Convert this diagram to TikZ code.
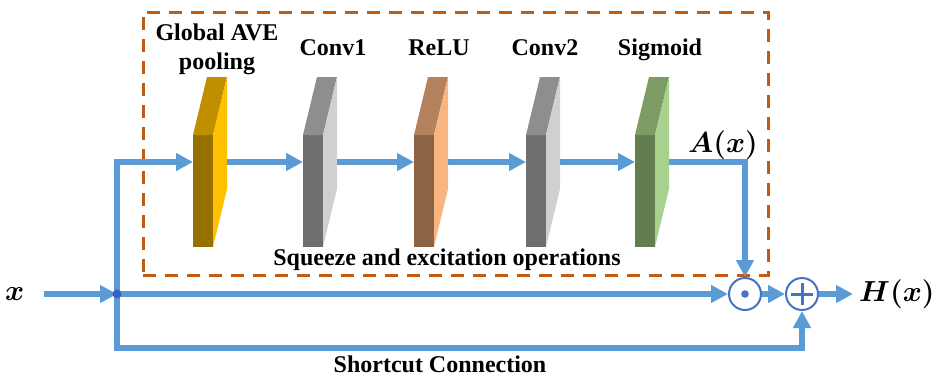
\RequirePackage{fix-cm}
\documentclass[tikz,border=0pt]{standalone}
\usepackage{amsmath}
\usepackage{fontspec}
\setmainfont{Liberation Serif}
\usetikzlibrary{arrows.meta,calc}
\definecolor{flowblue}{HTML}{5B9BD5}
\definecolor{opblue}{HTML}{4472C4}
\definecolor{dotblue}{HTML}{3A5FC0}
\definecolor{boxorange}{HTML}{C55A11}
\definecolor{goldF}{HTML}{977100}\definecolor{goldT}{HTML}{BF8F00}\definecolor{goldS}{HTML}{FFC000}
\definecolor{grayF}{HTML}{6F6F6F}\definecolor{grayT}{HTML}{8E8E8E}\definecolor{grayS}{HTML}{D0D0D0}
\definecolor{reluF}{HTML}{8C6343}\definecolor{reluT}{HTML}{B4835E}\definecolor{reluS}{HTML}{FAB482}
\definecolor{sigF}{HTML}{627D4E}\definecolor{sigT}{HTML}{7C9C64}\definecolor{sigS}{HTML}{A9D18E}
\newcommand{\mathAx}{$\boldsymbol{A(x)}$}
\newcommand{\mathHx}{$\boldsymbol{H(x)}$}
\newcommand{\mathx}{$\boldsymbol{x}$}
\tikzset{
  slabfront/.style={minimum width=20pt,minimum height=112pt,inner sep=0pt,outer sep=0pt},
  flow/.style={draw=flowblue,line width=5.5pt,-{Triangle[length=17pt,width=17pt]}},
  lbl/.style={font=\bfseries\fontsize{24}{28}\selectfont,anchor=base,inner sep=0pt},
  mth/.style={font=\fontsize{29}{33}\selectfont,inner sep=0pt},
  opnode/.style={circle,draw=opblue,line width=2pt,minimum size=32pt,inner sep=0pt,fill=white},
  sebox/.style={draw=boxorange,line width=3pt,dash pattern=on 13pt off 9pt,inner sep=0pt},
}
\newcommand{\slabfaces}[3]{%
  \fill[#2] (#1.north west) -- ++(14,-58) -- ++(20,0) -- (#1.north east) -- cycle;
  \fill[#3] (#1.north east) -- ++(14,-58) -- ++(0,112) -- (#1.south east) -- cycle;
  \coordinate (#1in) at ($(#1.north west)+(0,27)$);
  \coordinate (#1out) at ($(#1.north east)+(14,27)$);
}
\begin{document}
\begin{tikzpicture}[x=1pt,y=-1pt]
\useasboundingbox (0,0) rectangle (934,378);
% dashed frame
\node[sebox,minimum width=625pt,minimum height=263pt] (frame) at (455.5,143.5) {};
% slabs
\node[slabfront,fill=goldF] (s1) at (203,191) {};
\slabfaces{s1}{goldT}{goldS}
\node[slabfront,fill=grayF] (s2) at (313,191) {};
\slabfaces{s2}{grayT}{grayS}
\node[slabfront,fill=reluF] (s3) at (424,191) {};
\slabfaces{s3}{reluT}{reluS}
\node[slabfront,fill=grayF] (s4) at (536,191) {};
\slabfaces{s4}{grayT}{grayS}
\node[slabfront,fill=sigF] (s5) at (645,191) {};
\slabfaces{s5}{sigT}{sigS}
% labels
\node[lbl] (l1a) at (217,40) {Global AVE};
\node[lbl] (l1b) at (217,69) {pooling};
\node[lbl] (l2) at (333,55) {Conv1};
\node[lbl] (l3) at (439,55) {ReLU};
\node[lbl] (l4) at (545,55) {Conv2};
\node[lbl] (l5) at (660,55) {Sigmoid};
\node[lbl] (lse) at (447,265) {Squeeze and excitation operations};
\node[lbl] (lsc) at (440,372) {Shortcut Connection};
\node[mth,anchor=base west] (ax) at (688,152) {\mathAx};
% operators
\node[opnode] (odot) at (745,294) {};
\fill[opblue] (odot) circle (3.8pt);
\node[opnode] (oplus) at (802,294) {};
\draw[opblue,line width=3pt] ($(oplus)+(-11,0)$) -- ($(oplus)+(11,0)$);
\draw[opblue,line width=3pt] ($(oplus)+(0,-11)$) -- ($(oplus)+(0,11)$);
% input / output
\node[mth,anchor=west,inner xsep=5pt] (xin) at (0,294) {\mathx};
\node[mth,anchor=west,inner xsep=6pt] (hx) at (853,294) {\mathHx};
\coordinate (J) at (117,294);
\coordinate (bl) at (117,348);
% connectors
\draw[flow,shorten <=14pt] (xin.east) -- (J);
\draw[flow] (J) |- (s1in);
\draw[flow] (s1out) -- (s2in);
\draw[flow] (s2out) -- (s3in);
\draw[flow] (s3out) -- (s4in);
\draw[flow] (s4out) -- (s5in);
\draw[flow] (s5out) -| (odot.north);
\draw[flow] (J) -- (odot.west);
\draw[flow] (odot.east) -- (oplus.west);
\draw[flow] (oplus.east) -- (hx.west);
\draw[flow] (J) -- (bl) -| (oplus.south);
\fill[dotblue] (J) circle (4.5pt);
\end{tikzpicture}
\end{document}
